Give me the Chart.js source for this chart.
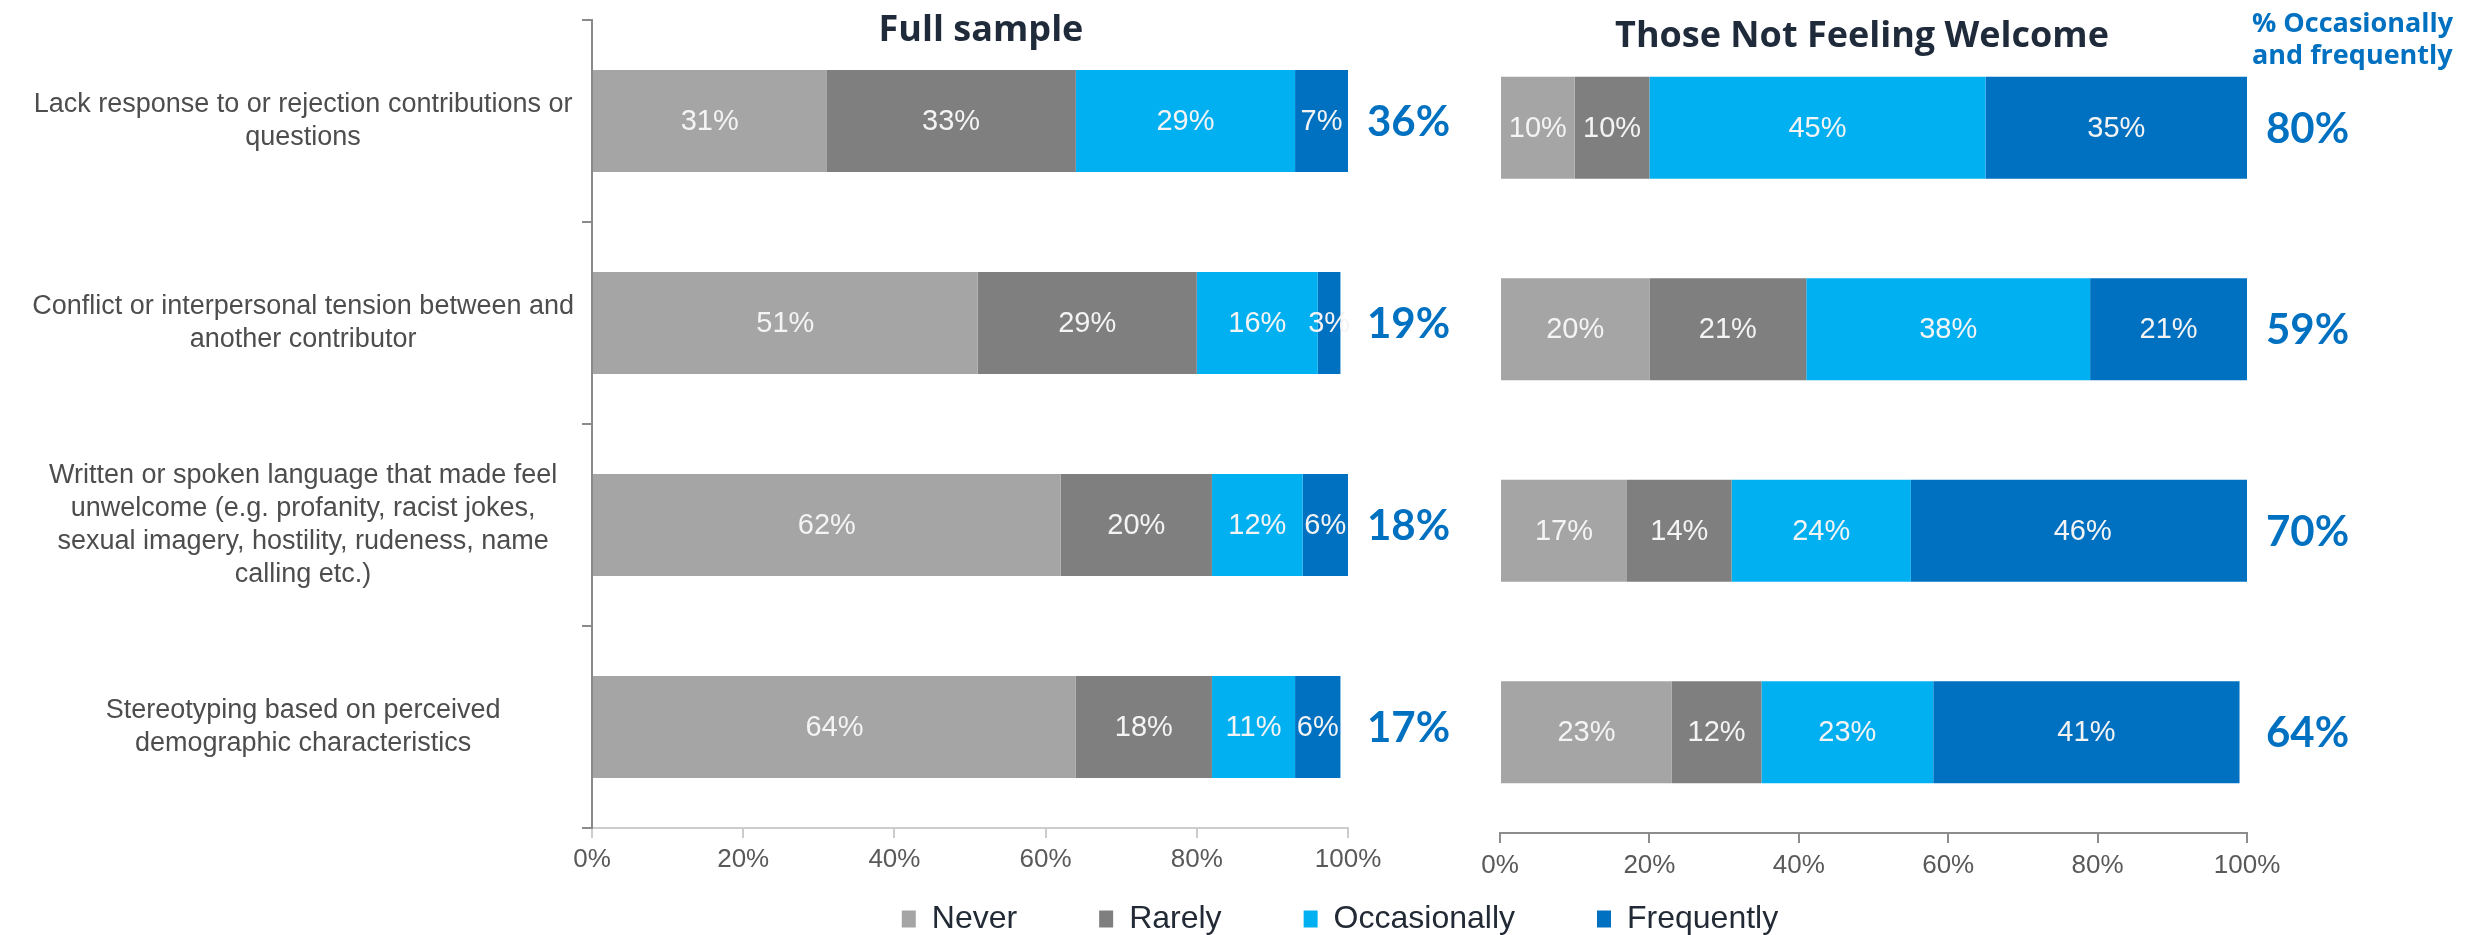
<!DOCTYPE html>
<html>
<head>
<meta charset="utf-8">
<title>Experiences of unwelcoming behaviour</title>
<script src="https://cdn.jsdelivr.net/npm/chart.js@4.4.1/dist/chart.umd.min.js"></script>
<style>
    html, body { margin: 0; padding: 0; background: #ffffff; overflow: hidden; }
    body { width: 2491px; height: 935px; position: relative; }
    canvas { position: absolute; }
    #fullChart { left: 0; top: 0; }
    #notWelcomeChart { left: 1470px; top: 0; }
    #legendChart { left: 190px; top: 821px; }
</style>
</head>
<body>
<canvas id="fullChart" width="1470" height="880"></canvas>
<canvas id="notWelcomeChart" width="1021" height="880"></canvas>
<canvas id="legendChart" width="2300" height="270"></canvas>

<script>
// ---- data ----
const categories = [
    ['Lack response to or rejection contributions or', 'questions'],
    ['Conflict or interpersonal tension between and', 'another contributor'],
    ['Written or spoken language that made feel', 'unwelcome (e.g. profanity, racist jokes,', 'sexual imagery, hostility, rudeness, name', 'calling etc.)'],
    ['Stereotyping based on perceived', 'demographic characteristics']
];
const seriesNames = ['Never', 'Rarely', 'Occasionally', 'Frequently'];
const seriesColors = ['#a5a5a5', '#7f7f7f', '#00b0f0', '#0070c0'];

// full sample
const fullNever = [31, 51, 62, 64];
const fullRarely = [33, 29, 20, 18];
const fullOccasionally = [29, 16, 12, 11];
const fullFrequently = [7, 3, 6, 6];

// those not feeling welcome
const nwNever = [10, 20, 17, 23];
const nwRarely = [10, 21, 14, 12];
const nwOccasionally = [45, 38, 24, 23];
const nwFrequently = [35, 21, 46, 41];

const xTicks = [0, 20, 40, 60, 80, 100];

// ---- helpers ----
const SANS = '"Liberation Sans", Arial, sans-serif';
const GEO = 'Lato, "Open Sans", sans-serif';
const WIDE = '"Open Sans", Lato, sans-serif';

function makeDatasets(rows) {
    return rows.map((values, i) => ({
        label: seriesNames[i],
        data: values,
        backgroundColor: seriesColors[i],
        borderWidth: 0,
        barPercentage: 0.505,
        categoryPercentage: 1
    }));
}

// % occasionally + % frequently per row
function sumOf(a, b) {
    return a.map((v, i) => v + b[i]);
}

// segment labels, row totals on the right and the panel title
const barText = {
    id: 'barText',
    afterDatasetsDraw(chart, args, opts) {
        const ctx = chart.ctx;
        const area = chart.chartArea;
        ctx.save();

        ctx.font = '29px ' + SANS;
        ctx.fillStyle = '#f4f4f4';
        ctx.textAlign = 'center';
        ctx.textBaseline = 'middle';
        chart.data.datasets.forEach((ds, i) => {
            chart.getDatasetMeta(i).data.forEach((bar, j) => {
                const p = bar.getProps(['x', 'y', 'base'], true);
                ctx.fillText(ds.data[j] + '%', (p.x + p.base) / 2, p.y + 1);
            });
        });

        ctx.font = 'bold 42px ' + GEO;
        ctx.fillStyle = '#0070c0';
        ctx.textAlign = 'left';
        ctx.textBaseline = 'alphabetic';
        const rows = chart.getDatasetMeta(0).data;
        opts.totals.forEach((t, j) => {
            ctx.fillText(t + '%', area.right + 19, rows[j].y + 15);
        });

        ctx.font = 'bold 36px ' + WIDE;
        ctx.fillStyle = '#1f2a3a';
        ctx.textAlign = 'center';
        ctx.fillText(opts.title, opts.titleX, opts.titleY);

        if (opts.note) {
            ctx.font = 'bold 27px ' + WIDE;
            ctx.fillStyle = '#0070c0';
            ctx.textAlign = 'left';
            opts.note.forEach((line, k) => {
                ctx.fillText(line, area.right + 5, 32 + k * 32);
            });
        }
        ctx.restore();
    }
};

function xScale(lineColor, axisHeight, pad) {
    return {
        type: 'linear',
        stacked: true,
        min: 0,
        max: 100,
        afterFit: (scale) => { scale.height = axisHeight; },
        afterBuildTicks: (scale) => { scale.ticks = xTicks.map(v => ({ value: v })); },
        border: { display: true, color: lineColor, width: 2 },
        grid: { drawOnChartArea: false, drawTicks: true, tickLength: 10, color: lineColor, lineWidth: 2 },
        ticks: {
            padding: pad,
            color: '#595959',
            font: { family: SANS, size: 26 },
            callback: (v) => v + '%'
        }
    };
}

function buildFull() {
    new Chart(document.getElementById('fullChart'), {
        type: 'bar',
        data: {
            labels: categories,
            datasets: makeDatasets([fullNever, fullRarely, fullOccasionally, fullFrequently])
        },
        options: {
            indexAxis: 'y',
            responsive: false,
            animation: false,
            layout: { padding: { left: 0, top: 20, right: 122, bottom: 0 } },
            scales: {
                x: xScale('#cccccc', 52, 6),
                y: {
                    stacked: true,
                    afterFit: (scale) => {
                        // fixed axis width; multi-line labels must not push the plot down
                        scale.width = 592;
                        scale.paddingTop = 0;
                        scale.paddingBottom = 0;
                    },
                    border: { display: true, color: '#8a8a8a', width: 2 },
                    grid: { drawOnChartArea: false, offset: true, tickLength: 10, color: '#8a8a8a', lineWidth: 2 },
                    ticks: {
                        autoSkip: false,
                        crossAlign: 'center',
                        padding: 8,
                        color: '#4d4d4d',
                        font: { family: SANS, size: 27, lineHeight: 1.22 }
                    }
                }
            },
            plugins: {
                legend: { display: false },
                tooltip: { enabled: false },
                barText: {
                    totals: sumOf(fullOccasionally, fullFrequently),
                    title: 'Full sample',
                    titleX: 981,
                    titleY: 41
                }
            }
        },
        plugins: [barText]
    });
}

function buildNotWelcome() {
    new Chart(document.getElementById('notWelcomeChart'), {
        type: 'bar',
        data: {
            labels: categories,
            datasets: makeDatasets([nwNever, nwRarely, nwOccasionally, nwFrequently])
        },
        options: {
            indexAxis: 'y',
            responsive: false,
            animation: false,
            layout: { padding: { left: 30, top: 27, right: 244, bottom: 0 } },
            scales: {
                x: xScale('#8c8c8c', 47, 7),
                y: { stacked: true, display: false }
            },
            plugins: {
                legend: { display: false },
                tooltip: { enabled: false },
                barText: {
                    totals: sumOf(nwOccasionally, nwFrequently),
                    title: 'Those Not Feeling Welcome',
                    titleX: 392,
                    titleY: 47,
                    note: ['% Occasionally', 'and frequently']
                }
            }
        },
        plugins: [barText]
    });
}

// shared legend under both panels
function buildLegend() {
    new Chart(document.getElementById('legendChart'), {
        type: 'bar',
        data: {
            labels: [],
            datasets: seriesNames.map((name, i) => ({ label: name, data: [], backgroundColor: seriesColors[i] }))
        },
        options: {
            responsive: false,
            animation: false,
            scales: { x: { display: false }, y: { display: false } },
            plugins: {
                tooltip: { enabled: false },
                legend: {
                    position: 'top',
                    align: 'center',
                    onClick: null,
                    labels: {
                        boxWidth: 14,
                        boxHeight: 17,
                        padding: 82,
                        color: '#222a35',
                        font: { family: SANS, size: 32 }
                    }
                }
            }
        }
    });
}

document.fonts.load('bold 42px Lato').finally(() => {
    buildFull();
    buildNotWelcome();
    buildLegend();
});
</script>
</body>
</html>
